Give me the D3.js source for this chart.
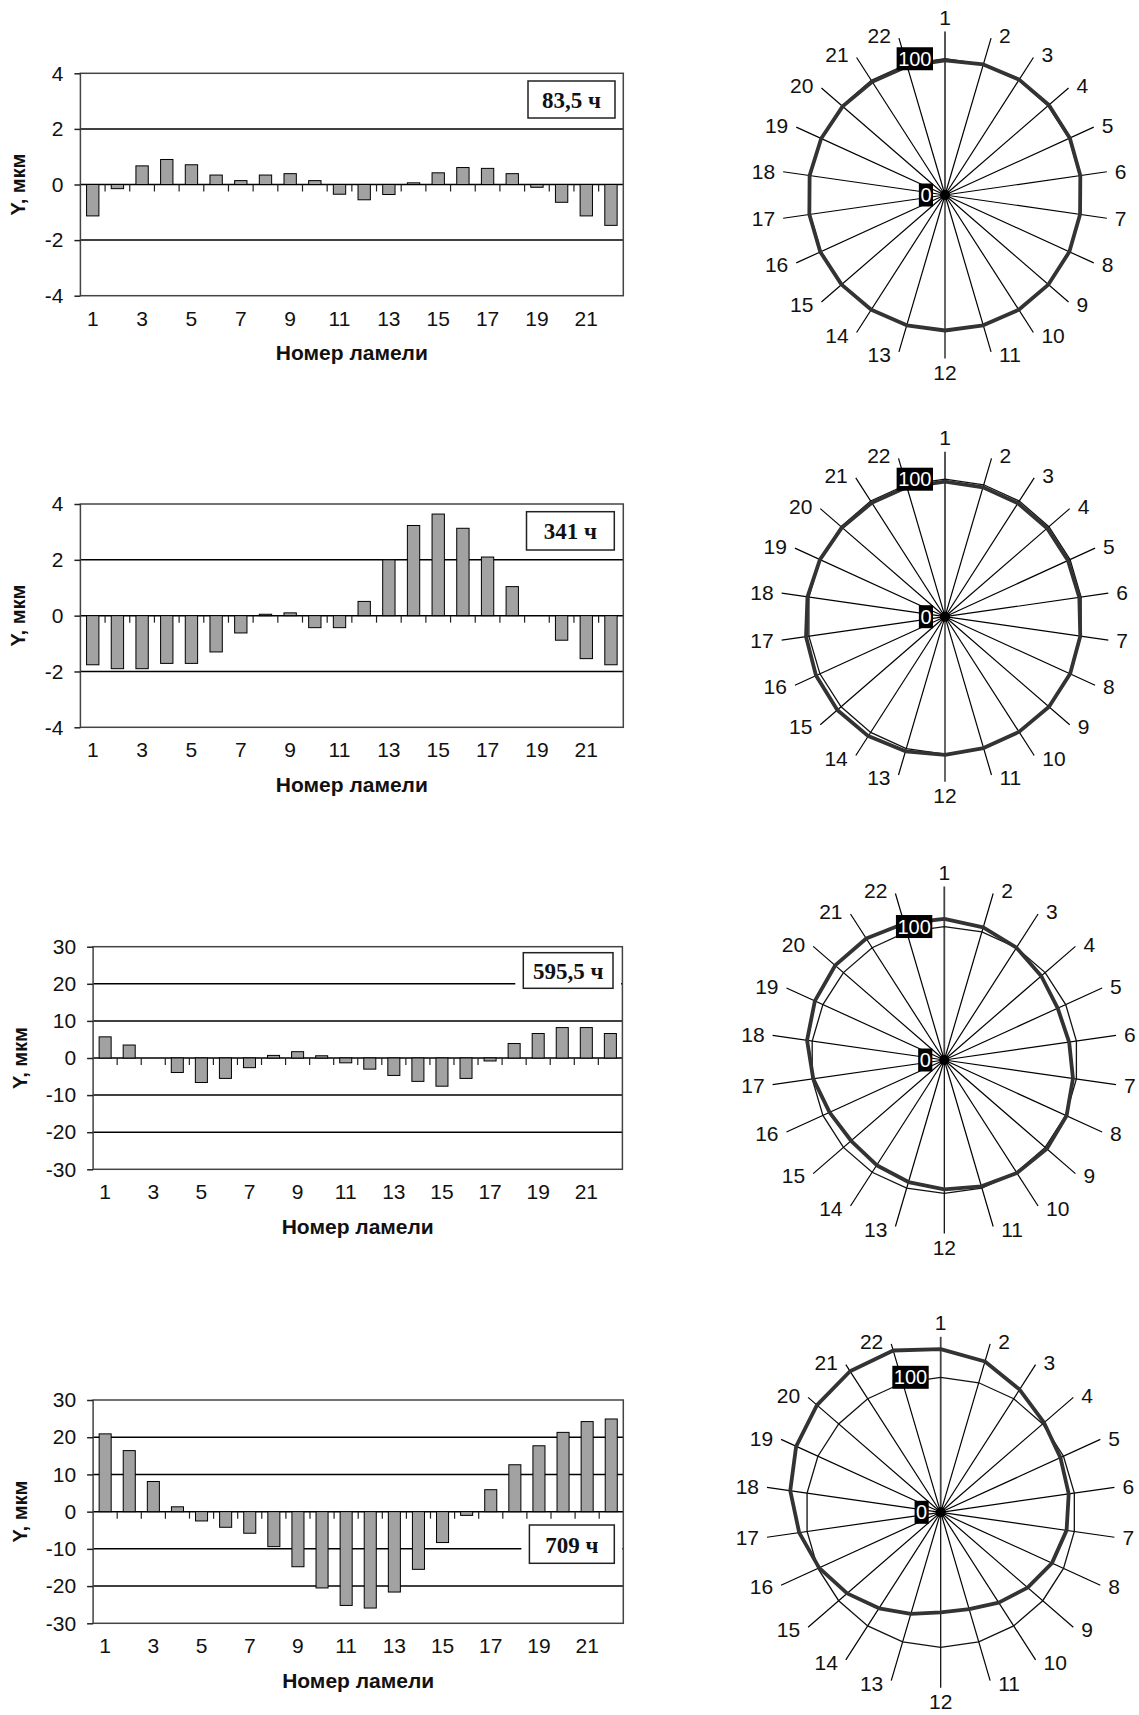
<!DOCTYPE html>
<html>
<head>
<meta charset="utf-8">
<script src="https://cdn.jsdelivr.net/npm/d3@7"></script>
<style>
  body { margin: 0; background: #fff; }
  text { font-family: "Liberation Sans", Arial, sans-serif; }
</style>
</head>
<body>
<div id="chart"></div>
<script>
// Lamella numbers (categories)
const lamellae = d3.range(1, 23);

// Run time labels
const hourLabels = ['83,5 ч', '341 ч', '595,5 ч', '709 ч'];

// Deviation Y, мкм per lamella
const y83 = [-1.13, -0.15, 0.67, 0.90, 0.71, 0.34, 0.14, 0.34, 0.39, 0.14, -0.35,
             -0.55, -0.36, 0.06, 0.42, 0.61, 0.58, 0.39, -0.10, -0.64, -1.13, -1.47];
const y341 = [-1.76, -1.90, -1.90, -1.71, -1.71, -1.30, -0.62, 0.05, 0.10, -0.43, -0.43,
              0.51, 2.00, 3.23, 3.64, 3.13, 2.10, 1.04, 0, -0.88, -1.54, -1.76];
const y595 = [5.7, 3.5, 0, -3.9, -6.6, -5.5, -2.6, 0.7, 1.7, 0.6, -1.3,
              -3.0, -4.7, -6.3, -7.6, -5.5, -0.8, 3.9, 6.6, 8.2, 8.2, 6.6];
const y709 = [20.9, 16.4, 8.1, 1.3, -2.5, -4.2, -5.8, -9.4, -14.8, -20.5, -25.2,
              -25.9, -21.6, -15.5, -8.3, -1.0, 5.9, 12.6, 17.7, 21.3, 24.2, 24.9];

// Axis ticks
const yTicksSmall = [-4, -2, 0, 2, 4];
const yTicksLarge = [-30, -20, -10, 0, 10, 20, 30];
const xTickLabels = d3.range(1, 22, 2);

// Radar: reference ring value, axis maximum and labelled radial values
const radarBase = 100;
const radarMax = [120, 120, 130, 130];
const radarAxisLabels = [0, 100];

// Page layout (pixels)
const W = 1139, H = 1715;
const PANELS = [
    { values: y83, ticks: yTicksSmall, label: hourLabels[0], max: radarMax[0],
      plot: { x0: 80.4, x1: 623.3, y0: 73.3, y1: 295.7 }, titleX: 18.4,
      box: { x0: 528, x1: 615, y0: 81, y1: 118 },
      radar: { cx: 945, cy: 195, r: 163.5 } },
    { values: y341, ticks: yTicksSmall, label: hourLabels[1], max: radarMax[1],
      plot: { x0: 80.4, x1: 623.3, y0: 504, y1: 727.3 }, titleX: 18.4,
      box: { x0: 526.5, x1: 614.3, y0: 511.7, y1: 550 },
      radar: { cx: 945, cy: 616.7, r: 165 } },
    { values: y595, ticks: yTicksLarge, label: hourLabels[2], max: radarMax[2],
      plot: { x0: 93.1, x1: 622.4, y0: 946.7, y1: 1169.3 }, titleX: 20.4,
      box: { x0: 523.3, x1: 613, y0: 952.7, y1: 988.3 },
      radar: { cx: 944.3, cy: 1060, r: 173.5 } },
    { values: y709, ticks: yTicksLarge, label: hourLabels[3], max: radarMax[3],
      plot: { x0: 93.1, x1: 623.3, y0: 1400, y1: 1623.3 }, titleX: 20.4,
      box: { x0: 529.4, x1: 614.3, y0: 1525, y1: 1563.3 },
      radar: { cx: 940.7, cy: 1512.3, r: 175.5 } }
];

const svg = d3.select('#chart')
    .append('svg')
    .attr('width', W)
    .attr('height', H)
    .attr('viewBox', `0 0 ${W} ${H}`);

svg.append('rect').attr('width', W).attr('height', H).attr('fill', '#fff');

// Bar chart of deviations
function drawBars(p) {
    const g = svg.append('g').attr('class', 'bar-chart');
    const { x0, x1, y0, y1 } = p.plot;

    const x = d3.scaleBand()
        .domain(lamellae)
        .range([x0, x1])
        .paddingInner(0.5)
        .paddingOuter(0.25);
    const y = d3.scaleLinear()
        .domain(d3.extent(p.ticks))
        .range([y1, y0]);

    // horizontal gridlines (inner ticks)
    g.selectAll('.grid')
        .data(p.ticks.slice(1, -1))
        .enter()
        .append('line')
        .attr('x1', x0).attr('x2', x1)
        .attr('y1', d => y(d)).attr('y2', d => y(d))
        .attr('stroke', '#000')
        .attr('stroke-width', 1.5);

    // category tick marks hanging under the zero line
    const step = x.step();
    g.selectAll('.cat-tick')
        .data(d3.range(1, lamellae.length))
        .enter()
        .append('line')
        .attr('x1', i => x0 + i * step).attr('x2', i => x0 + i * step)
        .attr('y1', y(0)).attr('y2', y(0) + 7)
        .attr('stroke', '#222')
        .attr('stroke-width', 1.2);

    // bars
    g.selectAll('.bar')
        .data(p.values)
        .enter()
        .append('rect')
        .attr('x', (d, i) => x(lamellae[i]))
        .attr('width', x.bandwidth())
        .attr('y', d => Math.min(y(d), y(0)))
        .attr('height', d => Math.abs(y(d) - y(0)))
        .attr('fill', '#a2a2a2')
        .attr('stroke', '#000')
        .attr('stroke-width', 1);

    // label box with white margin covering the gridline
    const b = p.box;
    g.append('rect')
        .attr('x', b.x0 - 8).attr('y', b.y0 - 3)
        .attr('width', b.x1 - b.x0 + 16).attr('height', b.y1 - b.y0 + 6)
        .attr('fill', '#fff');
    g.append('rect')
        .attr('x', b.x0).attr('y', b.y0)
        .attr('width', b.x1 - b.x0).attr('height', b.y1 - b.y0)
        .attr('fill', '#fff')
        .attr('stroke', '#222')
        .attr('stroke-width', 1.5);
    g.append('text')
        .attr('x', (b.x0 + b.x1) / 2)
        .attr('y', (b.y0 + b.y1) / 2 + 1)
        .attr('text-anchor', 'middle')
        .attr('dominant-baseline', 'central')
        .style('font-family', '"Liberation Serif", "Times New Roman", serif')
        .style('font-size', '23px')
        .style('font-weight', 'bold')
        .attr('fill', '#111')
        .text(p.label);

    // plot border
    g.append('rect')
        .attr('x', x0).attr('y', y0)
        .attr('width', x1 - x0).attr('height', y1 - y0)
        .attr('fill', 'none')
        .attr('stroke', '#444')
        .attr('stroke-width', 1.5);

    // y axis
    const yAxis = g.append('g')
        .attr('transform', `translate(${x0},0)`)
        .call(d3.axisLeft(y)
            .tickValues(p.ticks)
            .tickSize(6)
            .tickPadding(11)
            .tickFormat(d => String(d)));
    yAxis.select('.domain').remove();
    yAxis.selectAll('line').attr('stroke', '#222').attr('stroke-width', 1.5);
    yAxis.selectAll('text')
        .style('font-family', '"Liberation Sans", Arial, sans-serif')
        .style('font-size', '21px')
        .attr('fill', '#111');

    // x axis labels below the plot
    const xAxis = g.append('g')
        .attr('transform', `translate(0,${y1})`)
        .call(d3.axisBottom(x)
            .tickValues(xTickLabels)
            .tickSize(0)
            .tickPadding(15));
    xAxis.select('.domain').remove();
    xAxis.selectAll('text')
        .style('font-family', '"Liberation Sans", Arial, sans-serif')
        .style('font-size', '21px')
        .attr('fill', '#111');

    // axis titles
    g.append('text')
        .attr('transform', `translate(${p.titleX},${(y0 + y1) / 2}) rotate(-90)`)
        .attr('text-anchor', 'middle')
        .attr('dominant-baseline', 'central')
        .style('font-size', '20px')
        .style('font-weight', 'bold')
        .attr('fill', '#111')
        .text('Y, мкм');
    g.append('text')
        .attr('x', (x0 + x1) / 2)
        .attr('y', y1 + 57)
        .attr('text-anchor', 'middle')
        .attr('dominant-baseline', 'central')
        .style('font-size', '21px')
        .style('font-weight', 'bold')
        .attr('fill', '#111')
        .text('Номер ламели');
}

// Radar chart: reference ring at 100 and 100 + Y
function drawRadar(p) {
    const { cx, cy, r } = p.radar;
    const g = svg.append('g')
        .attr('class', 'radar')
        .attr('transform', `translate(${cx},${cy})`);

    const rScale = d3.scaleLinear().domain([0, p.max]).range([0, r]);
    const angle = d3.scalePoint()
        .domain(lamellae)
        .range([0, 2 * Math.PI * (lamellae.length - 1) / lamellae.length]);
    const px = (a, rr) => rr * Math.sin(a);
    const py = (a, rr) => -rr * Math.cos(a);

    // spokes
    g.selectAll('.spoke')
        .data(lamellae)
        .enter()
        .append('line')
        .attr('x1', 0).attr('y1', 0)
        .attr('x2', d => px(angle(d), r))
        .attr('y2', d => py(angle(d), r))
        .attr('stroke', d => d === 1 ? '#444' : '#000')
        .attr('stroke-width', d => d === 1 ? 1.8 : 1.2);

    const radial = d3.lineRadial()
        .angle((d, i) => angle(lamellae[i]))
        .radius(d => rScale(d))
        .curve(d3.curveLinearClosed);

    // reference ring
    g.append('path')
        .attr('d', radial(lamellae.map(() => radarBase)))
        .attr('fill', 'none')
        .attr('stroke', '#111')
        .attr('stroke-width', 1.3);

    // deviation profile
    g.append('path')
        .attr('d', radial(p.values.map(v => radarBase + v)))
        .attr('fill', 'none')
        .attr('stroke', '#333')
        .attr('stroke-width', 3.8)
        .attr('stroke-linejoin', 'round');

    g.append('circle').attr('r', 5).attr('fill', '#000');

    // category labels just beyond the spoke ends
    g.selectAll('.cat-label')
        .data(lamellae)
        .enter()
        .append('text')
        .each(function(d) {
            const a = angle(d);
            const s = Math.sin(a), c = Math.cos(a);
            const ex = px(a, r), ey = py(a, r);
            const t = d3.select(this);
            if (Math.abs(s) < 0.01) {
                t.attr('x', ex)
                 .attr('y', ey - Math.sign(c) * 14)
                 .attr('text-anchor', 'middle');
            } else {
                t.attr('x', ex + Math.sign(s) * 8)
                 .attr('y', ey - c * 3)
                 .attr('text-anchor', s > 0 ? 'start' : 'end');
            }
        })
        .attr('dominant-baseline', 'central')
        .style('font-size', '21px')
        .attr('fill', '#111')
        .text(d => d);

    // radial value labels: white on black, left of spoke 1
    radarAxisLabels.forEach(v => {
        const lg = g.append('g');
        const t = lg.append('text')
            .attr('x', -13.5)
            .attr('y', -rScale(v))
            .attr('text-anchor', 'end')
            .attr('dominant-baseline', 'central')
            .style('font-size', '20px')
            .attr('fill', '#fff')
            .text(v);
        const bb = t.node().getBBox();
        lg.insert('rect', 'text')
            .attr('x', bb.x - 1.5)
            .attr('y', -rScale(v) - 11.5)
            .attr('width', bb.width + 3)
            .attr('height', 23)
            .attr('fill', '#000');
    });
}

PANELS.forEach(p => {
    drawBars(p);
    drawRadar(p);
});
</script>
</body>
</html>
